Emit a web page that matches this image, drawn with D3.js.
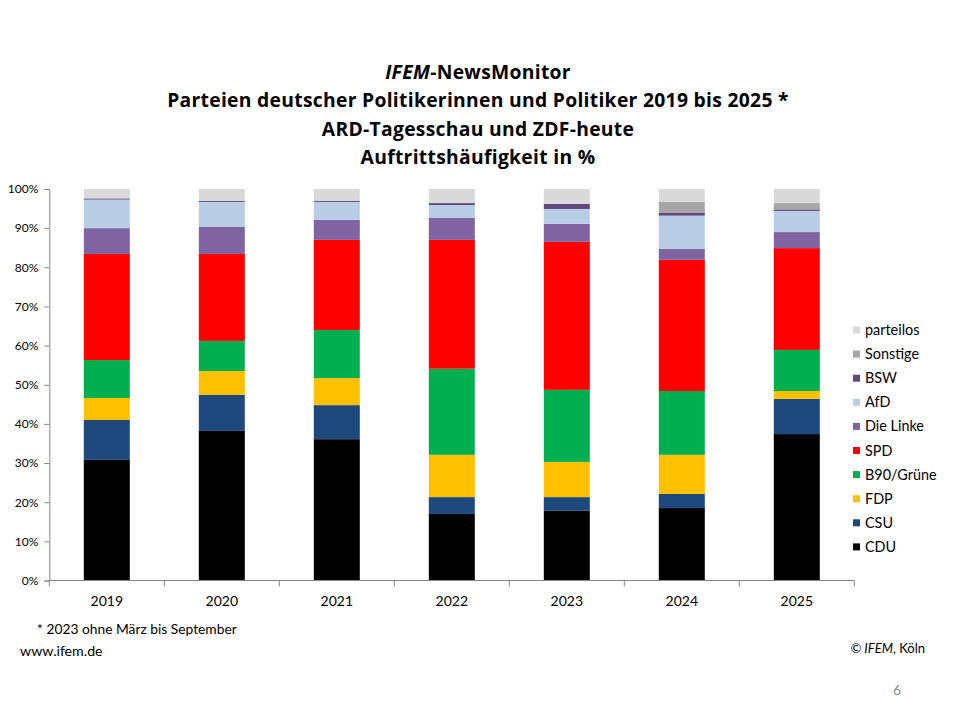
<!DOCTYPE html>
<html>
<head>
	<meta charset="utf-8">
	<script src="https://cdn.jsdelivr.net/npm/d3@7"></script>
	<style>
		html, body {
			padding: 0;
			margin: 0;
			background: #fff;
		}
		text { font-family: Lato, "Open Sans", sans-serif; }
		text.title { font-family: "Open Sans", sans-serif; font-weight: bold; font-size: 19.3px; letter-spacing: 0.3px; }
	</style>
</head>
<body>
	<script>
		// data (percent per year)
		var years = ['2019', '2020', '2021', '2022', '2023', '2024', '2025'];
		var parties = ['CDU', 'CSU', 'FDP', 'B90/Grüne', 'SPD', 'Die Linke', 'AfD', 'BSW', 'Sonstige', 'parteilos'];
		var partyColors = ['#000000', '#1f497d', '#ffc000', '#00b050', '#ff0000', '#8064a2', '#b9cde5', '#604a7b', '#a6a6a6', '#d9d9d9'];

		var cdu       = [30.8, 38.2, 36.1, 17.0, 17.8, 18.5, 37.4];
		var csu       = [10.2,  9.2,  8.7,  4.3,  3.5,  3.6,  9.0];
		var fdp       = [ 5.6,  6.1,  6.9, 10.8,  9.0, 10.0,  2.0];
		var gruene    = [ 9.7,  7.7, 12.3, 22.0, 18.4, 16.3, 10.5];
		var spd       = [27.1, 22.2, 23.0, 32.9, 37.8, 33.5, 26.0];
		var linke     = [ 6.6,  6.9,  5.1,  5.6,  4.6,  2.8,  4.1];
		var afd       = [ 7.3,  6.4,  4.6,  3.3,  3.8,  8.5,  5.4];
		var bsw       = [ 0.3,  0.3,  0.3,  0.5,  1.3,  0.8,  0.4];
		var sonstige  = [ 0.0,  0.0,  0.0,  0.0,  0.0,  2.7,  1.6];
		var parteilos = [ 2.4,  3.0,  3.0,  3.6,  3.8,  3.3,  3.6];

		var yTicks = [0, 0.1, 0.2, 0.3, 0.4, 0.5, 0.6, 0.7, 0.8, 0.9, 1];

		var titleLines = [
			'NewsMonitor',
			'Parteien deutscher Politikerinnen und Politiker 2019 bis 2025 *',
			'ARD-Tagesschau und ZDF-heute',
			'Auftrittshäufigkeit  in %'
		];

		var seriesValues = [cdu, csu, fdp, gruene, spd, linke, afd, bsw, sonstige, parteilos];

		var rows = years.map(function(y, i) {
			var r = {year: y};
			parties.forEach(function(p, j) { r[p] = seriesValues[j][i]; });
			return r;
		});

		var width = 960, height = 720;
		var svg = d3.select('body').append('svg')
			.attr('width', width)
			.attr('height', height);

		var plotLeft = 49.3, plotRight = 854.3, plotTop = 189, plotBottom = 580.5;

		var x = d3.scaleBand()
			.domain(years)
			.range([plotLeft, plotRight])
			.paddingInner(0.6)
			.paddingOuter(0.3);

		var y = d3.scaleLinear()
			.domain([0, 1])
			.range([plotBottom, plotTop]);

		var color = d3.scaleOrdinal().domain(parties).range(partyColors);

		var stack = d3.stack()
			.keys(parties)
			.offset(d3.stackOffsetExpand);

		var layers = stack(rows);

		// bars
		svg.append('g')
			.selectAll('g')
			.data(layers)
			.join('g')
				.attr('fill', function(d) { return color(d.key); })
			.selectAll('rect')
			.data(function(d) { return d; })
			.join('rect')
				.attr('x', function(d) { return x(d.data.year); })
				.attr('width', x.bandwidth())
				.attr('y', function(d) { return y(d[1]); })
				.attr('height', function(d) { return Math.max(0, y(d[0]) - y(d[1])); });

		// y axis
		var yAxis = svg.append('g')
			.attr('transform', 'translate(' + plotLeft + ',0)')
			.call(d3.axisLeft(y).tickValues(yTicks).tickFormat(d3.format('.0%')).tickSize(5).tickPadding(6));
		yAxis.select('.domain').attr('stroke', '#868686');
		yAxis.selectAll('.tick line').attr('stroke', '#868686');
		yAxis.selectAll('.tick text')
			.attr('fill', '#000')
			.style('font-size', '12px')
			.style('font-family', 'Lato, sans-serif');

		// x axis: tick marks between categories
		var step = x.step();
		var boundaries = years.map(function(yr) { return x(yr) - x.paddingInner() * step / 2; });
		boundaries.push(plotRight);

		svg.append('line')
			.attr('x1', plotLeft).attr('x2', plotRight)
			.attr('y1', plotBottom).attr('y2', plotBottom)
			.attr('stroke', '#868686');

		svg.append('g')
			.selectAll('line')
			.data(boundaries)
			.join('line')
				.attr('x1', function(d) { return d; })
				.attr('x2', function(d) { return d; })
				.attr('y1', plotBottom)
				.attr('y2', plotBottom + 6)
				.attr('stroke', '#868686');

		svg.append('g')
			.selectAll('text')
			.data(years)
			.join('text')
				.attr('x', function(d) { return x(d) + x.bandwidth() / 2; })
				.attr('y', 606)
				.attr('text-anchor', 'middle')
				.style('font-size', '14px')
				.attr('fill', '#000')
				.text(function(d) { return d; });

		// legend (top entry = last party)
		var legendOrder = parties.slice().reverse();
		var legend = svg.append('g')
			.selectAll('g')
			.data(legendOrder)
			.join('g')
				.attr('transform', function(d, i) { return 'translate(853,' + (330 + i * 24.1) + ')'; });

		legend.append('rect')
			.attr('x', 0).attr('y', -3.5)
			.attr('width', 7).attr('height', 7)
			.attr('fill', function(d) { return color(d); });

		legend.append('text')
			.attr('x', 12)
			.attr('y', 5)
			.style('font-size', '14.4px')
			.attr('fill', '#000')
			.text(function(d) { return d; });

		// title
		var title = svg.append('g');
		var t0 = title.append('text')
			.attr('class', 'title')
			.attr('x', 478).attr('y', 79)
			.attr('text-anchor', 'middle');
		t0.append('tspan').attr('font-style', 'italic').text('IFEM');
		t0.append('tspan').text('-' + titleLines[0]);

		title.selectAll('text.sub')
			.data(titleLines.slice(1))
			.join('text')
				.attr('class', 'title sub')
				.attr('x', 478)
				.attr('y', function(d, i) { return 107 + i * 28.5; })
				.attr('text-anchor', 'middle')
				.text(function(d) { return d; });

		// footer
		svg.append('text')
			.attr('x', 37).attr('y', 634)
			.style('font-size', '13.8px')
			.text('* 2023  ohne März bis September');

		svg.append('text')
			.attr('x', 20).attr('y', 656)
			.style('font-size', '14.2px')
			.text('www.ifem.de');

		var copy = svg.append('text')
			.attr('x', 925).attr('y', 653)
			.attr('text-anchor', 'end')
			.style('font-size', '13px');
		copy.append('tspan').attr('font-style', 'italic').text('©  IFEM');
		copy.append('tspan').text(', Köln');

		svg.append('text')
			.attr('x', 897).attr('y', 695)
			.attr('text-anchor', 'middle')
			.style('font-size', '14px')
			.attr('fill', '#8b8b8b')
			.text('6');
	</script>
</body>
</html>
